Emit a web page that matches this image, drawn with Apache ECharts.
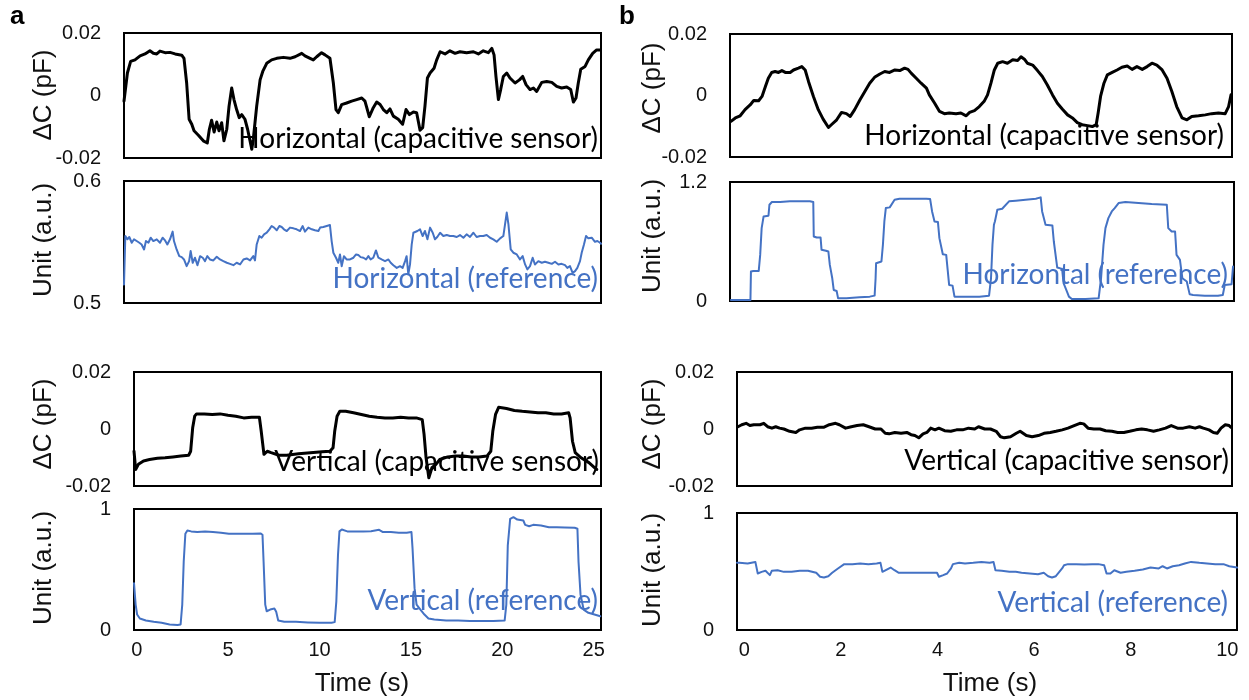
<!DOCTYPE html>
<html>
<head>
<meta charset="utf-8">
<script src="https://cdn.jsdelivr.net/npm/echarts@6/dist/echarts.min.js"></script>
<style>
  html, body { margin: 0; padding: 0; background: #fff; }
  #chart { width: 1249px; height: 700px; }
</style>
</head>
<body>
<div id="chart"></div>
<script>
// ---- Recorded traces: [time (s), value] ----
// (a) horizontal motion, capacitive sensor, ΔC (pF)
const horizCapA = [[0,-0.0018],[0.18,0.0072],[0.35,0.0109],[0.58,0.0114],[0.85,0.0127],[1.11,0.0133],[1.37,0.0143],[1.55,0.0135],[1.73,0.0133],[1.90,0.0142],[2.17,0.0137],[2.43,0.0138],[2.70,0.0133],[3.05,0.0129],[3.17,0.0119],[3.31,0.0040],[3.44,-0.0076],[3.58,-0.0092],[3.70,-0.0113],[3.93,-0.0127],[4.19,-0.0145],[4.40,-0.0152],[4.51,-0.0108],[4.63,-0.0079],[4.76,-0.0117],[4.90,-0.0085],[5.02,-0.0113],[5.16,-0.0087],[5.28,-0.0145],[5.43,-0.0108],[5.55,-0.0034],[5.69,0.0024],[5.81,-0.0013],[5.95,-0.0045],[6.09,-0.0071],[6.22,-0.0061],[6.39,-0.0076],[6.53,-0.0108],[6.75,-0.0172],[6.83,-0.0140],[7.01,-0.0034],[7.19,0.0050],[7.33,0.0077],[7.54,0.0103],[7.80,0.0114],[8.07,0.0119],[8.42,0.0122],[8.77,0.0119],[9.04,0.0124],[9.39,0.0135],[9.56,0.0127],[9.83,0.0119],[10.00,0.0114],[10.18,0.0124],[10.44,0.0137],[10.62,0.0130],[10.88,0.0119],[11.06,0.0040],[11.20,-0.0045],[11.32,-0.0055],[11.50,-0.0029],[11.76,-0.0024],[12.03,-0.0018],[12.29,-0.0013],[12.56,-0.0008],[12.73,-0.0018],[12.96,-0.0068],[13.17,-0.0039],[13.35,-0.0021],[13.53,-0.0029],[13.70,-0.0045],[13.88,-0.0055],[14.05,-0.0043],[14.23,-0.0066],[14.49,-0.0076],[14.72,-0.0092],[14.90,-0.0045],[15.08,-0.0061],[15.29,-0.0053],[15.46,-0.0055],[15.64,-0.0111],[15.78,-0.0103],[15.90,-0.0034],[16.03,0.0056],[16.17,0.0072],[16.38,0.0087],[16.52,0.0114],[16.70,0.0140],[16.96,0.0133],[17.22,0.0143],[17.49,0.0135],[17.75,0.0140],[18.10,0.0137],[18.46,0.0140],[18.72,0.0133],[18.98,0.0143],[19.25,0.0137],[19.43,0.0151],[19.55,0.0130],[19.65,0.0061],[19.78,-0.0013],[19.90,0.0019],[20.04,0.0061],[20.22,0.0072],[20.39,0.0056],[20.66,0.0040],[20.89,0.0050],[21.06,0.0061],[21.24,0.0035],[21.45,0.0019],[21.63,0.0024],[21.80,0.0013],[22.07,0.0042],[22.33,0.0045],[22.60,0.0042],[22.86,0.0029],[23.12,0.0024],[23.39,0.0027],[23.60,0.0019],[23.74,-0.0021],[23.88,-0.0008],[24.00,0.0040],[24.13,0.0084],[24.36,0.0093],[24.53,0.0114],[24.76,0.0135],[24.97,0.0146],[25.15,0.0146]];

// (a) horizontal motion, reference, Unit (a.u.)
const horizRefA = [[0,0.5151],[0.07,0.5549],[0.18,0.5522],[0.28,0.5541],[0.41,0.5494],[0.53,0.5522],[0.67,0.5508],[0.81,0.5494],[0.93,0.5480],[1.06,0.5439],[1.16,0.5508],[1.29,0.5494],[1.41,0.5535],[1.55,0.5508],[1.73,0.5522],[1.90,0.5494],[2.04,0.5535],[2.17,0.5513],[2.29,0.5480],[2.43,0.5522],[2.57,0.5585],[2.64,0.5508],[2.78,0.5439],[2.92,0.5384],[3.05,0.5376],[3.17,0.5357],[3.31,0.5302],[3.44,0.5343],[3.52,0.5426],[3.63,0.5330],[3.75,0.5371],[3.88,0.5310],[4.02,0.5384],[4.16,0.5371],[4.28,0.5343],[4.40,0.5384],[4.54,0.5357],[4.72,0.5349],[4.90,0.5379],[5.07,0.5357],[5.25,0.5343],[5.43,0.5330],[5.60,0.5321],[5.78,0.5310],[5.95,0.5330],[6.13,0.5316],[6.31,0.5357],[6.48,0.5365],[6.66,0.5349],[6.83,0.5384],[6.92,0.5349],[7.01,0.5480],[7.15,0.5549],[7.27,0.5535],[7.40,0.5563],[7.54,0.5576],[7.68,0.5604],[7.80,0.5631],[7.93,0.5618],[8.07,0.5596],[8.21,0.5631],[8.33,0.5623],[8.45,0.5604],[8.60,0.5590],[8.77,0.5618],[8.95,0.5612],[9.12,0.5604],[9.30,0.5590],[9.44,0.5631],[9.56,0.5585],[9.74,0.5618],[9.92,0.5604],[10.09,0.5596],[10.27,0.5590],[10.36,0.5618],[10.53,0.5623],[10.71,0.5631],[10.88,0.5639],[10.97,0.5508],[11.06,0.5412],[11.20,0.5371],[11.32,0.5330],[11.41,0.5398],[11.50,0.5302],[11.62,0.5384],[11.76,0.5357],[11.94,0.5357],[12.12,0.5371],[12.26,0.5398],[12.38,0.5393],[12.50,0.5376],[12.65,0.5371],[12.79,0.5357],[12.91,0.5384],[13.03,0.5357],[13.17,0.5371],[13.31,0.5431],[13.44,0.5371],[13.61,0.5357],[13.79,0.5343],[13.97,0.5357],[14.09,0.5330],[14.23,0.5310],[14.41,0.5288],[14.58,0.5302],[14.72,0.5288],[14.85,0.5343],[14.93,0.5384],[15.02,0.5234],[15.11,0.5316],[15.20,0.5480],[15.29,0.5576],[15.37,0.5563],[15.50,0.5590],[15.64,0.5604],[15.78,0.5549],[15.90,0.5590],[16.03,0.5522],[16.17,0.5618],[16.31,0.5576],[16.43,0.5522],[16.55,0.5541],[16.70,0.5576],[16.87,0.5549],[17.05,0.5557],[17.22,0.5549],[17.40,0.5549],[17.58,0.5541],[17.75,0.5557],[17.93,0.5535],[18.10,0.5563],[18.28,0.5541],[18.46,0.5576],[18.63,0.5541],[18.81,0.5549],[18.98,0.5549],[19.16,0.5557],[19.34,0.5535],[19.51,0.5522],[19.69,0.5502],[19.87,0.5530],[20.04,0.5549],[20.13,0.5645],[20.22,0.5741],[20.31,0.5645],[20.43,0.5439],[20.57,0.5412],[20.75,0.5398],[20.92,0.5357],[21.06,0.5384],[21.19,0.5316],[21.31,0.5275],[21.45,0.5302],[21.59,0.5371],[21.71,0.5316],[21.89,0.5343],[22.07,0.5330],[22.24,0.5338],[22.42,0.5330],[22.60,0.5321],[22.77,0.5338],[22.95,0.5316],[23.12,0.5321],[23.30,0.5310],[23.42,0.5288],[23.56,0.5302],[23.70,0.5247],[23.83,0.5261],[23.95,0.5288],[24.09,0.5343],[24.18,0.5412],[24.30,0.5480],[24.41,0.5549],[24.53,0.5530],[24.71,0.5535],[24.88,0.5502],[25.01,0.5508],[25.15,0.5494],[25.20,0.5486]];

// (a) vertical motion, capacitive sensor, ΔC (pF)
const vertCapA = [[-0.15,-0.0078],[-0.06,-0.0142],[0.09,-0.0124],[0.37,-0.0112],[0.70,-0.0107],[1.13,-0.0103],[1.55,-0.0101],[1.98,-0.0098],[2.41,-0.0095],[2.84,-0.0092],[2.95,-0.0078],[3.06,0.0004],[3.17,0.0045],[3.27,0.0053],[3.70,0.0053],[4.13,0.0051],[4.56,0.0053],[4.99,0.0048],[5.42,0.0045],[5.85,0.0039],[6.28,0.0041],[6.71,0.0041],[6.81,-0.0008],[6.96,-0.0089],[7.14,-0.0078],[7.35,-0.0083],[7.78,-0.0092],[8.21,-0.0092],[8.85,-0.0087],[9.50,-0.0083],[10.14,-0.0080],[10.57,-0.0078],[10.74,-0.0066],[10.83,-0.0008],[10.96,0.0045],[11.11,0.0062],[11.43,0.0062],[11.86,0.0057],[12.29,0.0051],[12.72,0.0045],[13.15,0.0041],[13.58,0.0039],[14.01,0.0039],[14.44,0.0041],[14.87,0.0039],[15.30,0.0039],[15.62,0.0033],[15.72,-0.0019],[15.83,-0.0101],[15.98,-0.0171],[16.15,-0.0136],[16.37,-0.0124],[16.58,-0.0107],[17.01,-0.0098],[17.44,-0.0095],[17.87,-0.0095],[18.30,-0.0098],[18.73,-0.0098],[19.16,-0.0095],[19.37,-0.0078],[19.48,-0.0008],[19.63,0.0051],[19.80,0.0076],[20.23,0.0072],[20.66,0.0065],[21.09,0.0062],[21.52,0.0060],[21.95,0.0057],[22.38,0.0057],[22.81,0.0053],[23.24,0.0053],[23.63,0.0057],[23.71,0.0039],[23.84,-0.0043],[23.99,-0.0083],[24.31,-0.0101],[24.74,-0.0118],[25.06,-0.0136],[25.17,-0.0142]];

// (a) vertical motion, reference, Unit (a.u.)
const vertRefA = [[-0.15,0.387],[-0.06,0.210],[0.02,0.128],[0.17,0.095],[0.50,0.079],[0.93,0.068],[1.36,0.060],[1.80,0.046],[2.23,0.041],[2.40,0.046],[2.49,0.210],[2.57,0.564],[2.66,0.796],[2.77,0.823],[2.98,0.815],[3.31,0.809],[3.74,0.815],[4.17,0.809],[4.61,0.804],[5.04,0.796],[5.47,0.796],[5.90,0.796],[6.34,0.796],[6.77,0.798],[6.88,0.787],[6.94,0.564],[7.03,0.210],[7.11,0.155],[7.30,0.169],[7.53,0.177],[7.63,0.150],[7.74,0.079],[8.07,0.068],[8.71,0.068],[9.36,0.063],[10.01,0.060],[10.66,0.060],[10.83,0.065],[10.92,0.237],[11.01,0.619],[11.09,0.815],[11.22,0.831],[11.52,0.815],[11.96,0.815],[12.39,0.815],[12.82,0.817],[13.26,0.828],[13.47,0.809],[13.90,0.809],[14.34,0.804],[14.77,0.804],[15.03,0.809],[15.09,0.673],[15.20,0.346],[15.31,0.210],[15.52,0.169],[15.74,0.128],[15.96,0.095],[16.28,0.087],[16.93,0.079],[17.58,0.079],[18.23,0.074],[18.88,0.074],[19.52,0.074],[20.13,0.079],[20.22,0.210],[20.30,0.700],[20.43,0.918],[20.61,0.932],[20.82,0.913],[21.15,0.905],[21.25,0.869],[21.47,0.858],[21.69,0.869],[22.12,0.864],[22.55,0.850],[22.98,0.850],[23.42,0.847],[23.96,0.845],[24.11,0.837],[24.17,0.564],[24.28,0.292],[24.45,0.169],[24.71,0.142],[25.04,0.128],[25.36,0.114]];

// (b) horizontal motion, capacitive sensor, ΔC (pF)
const horizCapB = [[-0.13,-0.0084],[-0.04,-0.0073],[0.06,-0.0066],[0.16,-0.0046],[0.27,-0.0030],[0.34,-0.0016],[0.44,-0.0017],[0.51,-0.0003],[0.58,0.0029],[0.64,0.0056],[0.71,0.0075],[0.78,0.0078],[0.85,0.0075],[0.92,0.0081],[0.99,0.0075],[1.09,0.0075],[1.16,0.0083],[1.26,0.0089],[1.33,0.0094],[1.40,0.0083],[1.47,0.0045],[1.57,-0.0003],[1.67,-0.0046],[1.77,-0.0077],[1.88,-0.0104],[1.94,-0.0095],[2.05,-0.0079],[2.15,-0.0055],[2.25,-0.0059],[2.33,-0.0068],[2.42,-0.0046],[2.53,-0.0014],[2.63,0.0013],[2.73,0.0040],[2.83,0.0059],[2.94,0.0070],[3.04,0.0078],[3.14,0.0075],[3.25,0.0083],[3.35,0.0081],[3.45,0.0089],[3.52,0.0085],[3.59,0.0072],[3.69,0.0056],[3.79,0.0040],[3.90,0.0024],[3.96,0.0002],[4.07,-0.0025],[4.17,-0.0052],[4.27,-0.0059],[4.37,-0.0057],[4.51,-0.0059],[4.61,-0.0057],[4.72,-0.0066],[4.79,-0.0055],[4.89,-0.0049],[4.99,-0.0036],[5.09,-0.0019],[5.16,0.0002],[5.23,0.0040],[5.30,0.0083],[5.37,0.0105],[5.47,0.0110],[5.57,0.0105],[5.68,0.0116],[5.78,0.0114],[5.85,0.0126],[5.92,0.0118],[5.98,0.0105],[6.09,0.0099],[6.19,0.0081],[6.29,0.0062],[6.39,0.0035],[6.50,0.0002],[6.60,-0.0025],[6.70,-0.0044],[6.81,-0.0063],[6.91,-0.0073],[7.01,-0.0088],[7.11,-0.0095],[7.22,-0.0098],[7.32,-0.0101],[7.40,-0.0095],[7.44,-0.0057],[7.49,-0.0003],[7.56,0.0040],[7.63,0.0067],[7.73,0.0075],[7.83,0.0083],[7.93,0.0092],[8.04,0.0096],[8.14,0.0085],[8.24,0.0094],[8.35,0.0085],[8.45,0.0094],[8.55,0.0105],[8.65,0.0099],[8.76,0.0083],[8.86,0.0056],[8.96,0.0013],[9.06,-0.0036],[9.17,-0.0073],[9.27,-0.0079],[9.37,-0.0068],[9.51,-0.0066],[9.65,-0.0063],[9.78,-0.0059],[9.92,-0.0057],[10.06,-0.0059],[10.13,-0.0036],[10.18,0.0002]];

// (b) horizontal motion, reference, Unit (a.u.)
const horizRefB = [[-0.13,0.010],[0.06,0.010],[0.27,0.010],[0.28,0.297],[0.33,0.303],[0.44,0.303],[0.47,0.465],[0.50,0.735],[0.54,0.853],[0.64,0.860],[0.66,0.971],[0.71,0.998],[0.88,0.998],[1.08,1.005],[1.29,1.005],[1.49,1.005],[1.56,0.998],[1.57,0.651],[1.63,0.640],[1.71,0.640],[1.73,0.516],[1.82,0.506],[1.87,0.499],[1.90,0.364],[1.95,0.229],[1.98,0.111],[2.04,0.101],[2.07,0.027],[2.24,0.027],[2.51,0.037],[2.72,0.044],[2.82,0.054],[2.84,0.229],[2.85,0.381],[2.96,0.398],[2.99,0.566],[3.02,0.802],[3.05,0.937],[3.13,0.944],[3.23,1.021],[3.33,1.032],[3.60,1.032],[3.88,1.032],[3.96,1.028],[4.00,0.903],[4.05,0.802],[4.12,0.796],[4.15,0.634],[4.22,0.472],[4.29,0.465],[4.32,0.314],[4.35,0.162],[4.42,0.155],[4.46,0.044],[4.69,0.044],[4.97,0.044],[5.17,0.054],[5.21,0.229],[5.24,0.566],[5.27,0.769],[5.29,0.802],[5.34,0.920],[5.44,0.930],[5.58,1.005],[5.72,1.011],[5.92,1.021],[6.13,1.032],[6.23,1.045],[6.26,0.903],[6.33,0.769],[6.47,0.762],[6.50,0.600],[6.57,0.337],[6.60,0.324],[6.67,0.324],[6.70,0.179],[6.77,0.094],[6.81,0.044],[6.87,0.020],[7.15,0.020],[7.42,0.027],[7.47,0.229],[7.52,0.566],[7.56,0.735],[7.62,0.836],[7.69,0.903],[7.75,0.937],[7.83,0.988],[7.97,0.998],[8.24,0.988],[8.51,0.978],[8.82,0.971],[8.85,0.735],[8.92,0.701],[8.99,0.701],[9.02,0.465],[9.09,0.415],[9.14,0.229],[9.23,0.196],[9.29,0.067],[9.36,0.061],[9.60,0.054],[9.87,0.054],[9.97,0.061],[10.01,0.162],[10.15,0.169],[10.18,0.347]];

// (b) vertical motion, capacitive sensor, ΔC (pF)
const vertCapB = [[-0.13,0.0008],[-0.05,0.0015],[0.04,0.0020],[0.12,0.0012],[0.20,0.0015],[0.33,0.0015],[0.41,0.0020],[0.49,0.0008],[0.58,0.0003],[0.66,0.0008],[0.74,0.0003],[0.83,0.0000],[0.95,-0.0008],[1.08,-0.0012],[1.16,-0.0003],[1.28,0.0003],[1.41,0.0003],[1.53,0.0006],[1.66,0.0006],[1.78,0.0015],[1.91,0.0020],[1.99,0.0015],[2.12,0.0003],[2.24,0.0008],[2.36,0.0012],[2.49,0.0015],[2.61,0.0008],[2.74,0.0000],[2.86,0.0000],[2.95,-0.0015],[3.03,-0.0017],[3.15,-0.0012],[3.28,-0.0015],[3.40,-0.0012],[3.49,-0.0020],[3.57,-0.0023],[3.65,-0.0031],[3.74,-0.0017],[3.82,-0.0012],[3.90,0.0003],[3.99,-0.0003],[4.07,0.0003],[4.19,-0.0006],[4.32,-0.0008],[4.44,-0.0003],[4.57,-0.0003],[4.69,0.0003],[4.82,0.0000],[4.90,0.0008],[5.03,0.0000],[5.15,0.0000],[5.27,-0.0008],[5.36,-0.0027],[5.44,-0.0031],[5.57,-0.0027],[5.69,-0.0015],[5.77,-0.0008],[5.90,-0.0023],[6.02,-0.0027],[6.15,-0.0023],[6.27,-0.0015],[6.40,-0.0012],[6.52,-0.0008],[6.65,-0.0003],[6.77,0.0003],[6.90,0.0012],[7.02,0.0020],[7.10,0.0018],[7.19,0.0003],[7.31,0.0000],[7.44,0.0000],[7.56,-0.0006],[7.69,-0.0008],[7.81,-0.0012],[7.94,-0.0012],[8.06,-0.0008],[8.19,-0.0003],[8.31,0.0000],[8.43,-0.0003],[8.56,-0.0008],[8.68,-0.0003],[8.81,0.0003],[8.93,0.0012],[9.06,0.0003],[9.18,0.0003],[9.31,0.0008],[9.43,0.0003],[9.52,0.0008],[9.60,0.0003],[9.72,-0.0003],[9.81,-0.0012],[9.89,-0.0015],[9.97,0.0003],[10.06,0.0015],[10.14,0.0012],[10.18,0.0006]];

// (b) vertical motion, reference, Unit (a.u.)
const vertRefB = [[-0.15,0.574],[-0.10,0.574],[0.07,0.568],[0.23,0.582],[0.28,0.483],[0.36,0.497],[0.44,0.506],[0.53,0.469],[0.57,0.506],[0.69,0.511],[0.82,0.497],[0.98,0.497],[1.15,0.506],[1.32,0.506],[1.49,0.489],[1.57,0.455],[1.65,0.449],[1.74,0.460],[1.82,0.489],[1.94,0.526],[2.07,0.563],[2.24,0.563],[2.40,0.568],[2.57,0.563],[2.74,0.568],[2.82,0.574],[2.86,0.497],[2.95,0.517],[3.03,0.534],[3.11,0.511],[3.20,0.489],[3.32,0.489],[3.49,0.489],[3.74,0.489],[3.99,0.489],[4.03,0.455],[4.12,0.469],[4.20,0.483],[4.28,0.526],[4.32,0.563],[4.45,0.574],[4.57,0.568],[4.74,0.574],[4.91,0.582],[5.08,0.574],[5.16,0.582],[5.20,0.511],[5.33,0.506],[5.49,0.497],[5.62,0.497],[5.74,0.489],[5.91,0.483],[6.08,0.477],[6.20,0.489],[6.29,0.460],[6.37,0.449],[6.45,0.460],[6.49,0.477],[6.58,0.526],[6.62,0.554],[6.70,0.563],[6.87,0.563],[7.04,0.560],[7.20,0.563],[7.33,0.563],[7.45,0.554],[7.50,0.483],[7.58,0.483],[7.66,0.511],[7.79,0.489],[7.91,0.497],[8.08,0.506],[8.25,0.517],[8.41,0.534],[8.58,0.526],[8.66,0.545],[8.75,0.526],[8.87,0.545],[9.00,0.554],[9.12,0.568],[9.25,0.582],[9.42,0.574],[9.58,0.568],[9.75,0.563],[9.92,0.563],[10.04,0.545],[10.20,0.534]];

// ---- Axis ticks and labels ----
const timeTicksA = [0, 5, 10, 15, 20, 25];
const timeTicksB = [0, 2, 4, 6, 8, 10];
const capTicks = [-0.02, 0, 0.02];
const horizRefTicksA = [0.5, 0.6];
const horizRefTicksB = [0, 1.2];
const vertRefTicks = [0, 1];
const capTitle = 'ΔC (pF)';
const refTitle = 'Unit (a.u.)';
const timeTitle = 'Time (s)';
const traceNames = ['Horizontal (capacitive sensor)', 'Horizontal (reference)', 'Vertical (capacitive sensor)', 'Vertical (reference)'];

const BLACK = '#000000';
const BLUE = '#4472C4';
const TICK_FONT = '"Liberation Sans", Arial, sans-serif';
const NOTE_FONT = 'Lato, "Open Sans", sans-serif';

// Panel layout: plot box, x range, trace, etc.
const panels = [
  { box: [124, 33, 477, 125], x: [0, 25.2], data: horizCapA, color: BLACK, width: 3, yTicks: capTicks, note: traceNames[0], noteAt: [598, 153], title: capTitle, titleAt: [44, 95] },
  { box: [124, 181, 477, 122], x: [0, 25.2], data: horizRefA, color: BLUE, width: 2, yTicks: horizRefTicksA, note: traceNames[1], noteAt: [598, 293], title: refTitle, titleAt: [44, 240] },
  { box: [134, 372, 467, 114], x: [-0.15, 25.4], data: vertCapA, color: BLACK, width: 3, yTicks: capTicks, note: traceNames[2], noteAt: [599, 476], title: capTitle, titleAt: [44, 424] },
  { box: [134, 509, 467, 121], x: [-0.15, 25.4], data: vertRefA, color: BLUE, width: 2, yTicks: vertRefTicks, note: traceNames[3], noteAt: [598, 615], title: refTitle, titleAt: [44, 568], xTicks: timeTicksA },
  { box: [730, 34, 502, 123], x: [-0.15, 10.2], data: horizCapB, color: BLACK, width: 3, yTicks: capTicks, note: traceNames[0], noteAt: [1224, 150], title: capTitle, titleAt: [653, 88] },
  { box: [730, 182, 504, 119], x: [-0.15, 10.2], data: horizRefB, color: BLUE, width: 2, yTicks: horizRefTicksB, note: traceNames[1], noteAt: [1228, 289], title: refTitle, titleAt: [653, 236] },
  { box: [737, 372, 495, 114], x: [-0.15, 10.2], data: vertCapB, color: BLACK, width: 3, yTicks: capTicks, note: traceNames[2], noteAt: [1229, 475], title: capTitle, titleAt: [653, 424] },
  { box: [737, 513, 500, 117], x: [-0.15, 10.2], data: vertRefB, color: BLUE, width: 2, yTicks: vertRefTicks, note: traceNames[3], noteAt: [1228, 617], title: refTitle, titleAt: [653, 570], xTicks: timeTicksB }
];

const grid = [], xAxis = [], yAxis = [], series = [], graphic = [];

panels.forEach((p, i) => {
  grid.push({
    left: p.box[0], top: p.box[1], width: p.box[2], height: p.box[3],
    show: true, borderColor: '#000', borderWidth: 2, backgroundColor: 'transparent',
    containLabel: false
  });
  xAxis.push({
    gridIndex: i, type: 'value', min: p.x[0], max: p.x[1],
    axisLine: { show: false }, axisTick: { show: false }, splitLine: { show: false },
    axisLabel: p.xTicks ? {
      show: true, customValues: p.xTicks, margin: 10,
      fontSize: 20, color: '#111', fontFamily: TICK_FONT
    } : { show: false }
  });
  yAxis.push({
    gridIndex: i, type: 'value', min: p.yTicks[0], max: p.yTicks[p.yTicks.length - 1],
    axisLine: { show: false }, axisTick: { show: false }, splitLine: { show: false },
    axisLabel: {
      customValues: p.yTicks, margin: 23,
      fontSize: 20, color: '#111', fontFamily: TICK_FONT,
      formatter: v => String(Math.round(v * 1000) / 1000)
    }
  });
  series.push({
    type: 'line', xAxisIndex: i, yAxisIndex: i, data: p.data,
    showSymbol: false, symbol: 'none', clip: true, z: 2,
    lineStyle: { color: p.color, width: p.width, join: 'round', cap: 'round' }
  });
  graphic.push({
    type: 'text', x: p.noteAt[0], y: p.noteAt[1], z: 10,
    style: { text: p.note, fill: p.color, font: '28px ' + NOTE_FONT, align: 'right', verticalAlign: 'bottom' }
  });
  graphic.push({
    type: 'text', x: p.titleAt[0], y: p.titleAt[1], rotation: Math.PI / 2, z: 10,
    style: { text: p.title, fill: '#111', font: '26px ' + TICK_FONT, align: 'center', verticalAlign: 'middle' }
  });
});

// Time axis titles and panel letters
graphic.push({ type: 'text', x: 362, y: 684, z: 10, style: { text: timeTitle, fill: '#111', font: '26px ' + TICK_FONT, align: 'center', verticalAlign: 'middle' } });
graphic.push({ type: 'text', x: 990, y: 684, z: 10, style: { text: timeTitle, fill: '#111', font: '26px ' + TICK_FONT, align: 'center', verticalAlign: 'middle' } });
graphic.push({ type: 'text', x: 10, y: 30, z: 10, style: { text: 'a', fill: '#000', font: 'bold 26px ' + TICK_FONT, align: 'left', verticalAlign: 'bottom' } });
graphic.push({ type: 'text', x: 619, y: 30, z: 10, style: { text: 'b', fill: '#000', font: 'bold 26px ' + TICK_FONT, align: 'left', verticalAlign: 'bottom' } });

const chart = echarts.init(document.getElementById('chart'), null, { renderer: 'canvas' });
chart.setOption({
  animation: false,
  backgroundColor: '#ffffff',
  grid, xAxis, yAxis, series, graphic
});
</script>
</body>
</html>
